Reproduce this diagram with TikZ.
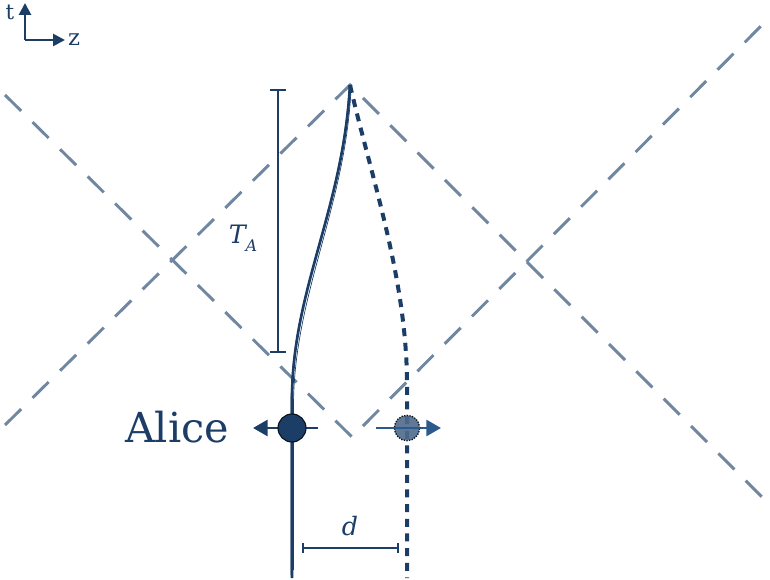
\documentclass[tikz,border=0pt]{standalone}
\usepackage{fontspec}
\setmainfont{DejaVu Serif}
\usetikzlibrary{arrows.meta}
\definecolor{navy}{HTML}{1B3D66}
\definecolor{cone}{HTML}{6F87A0}
\definecolor{ghost}{HTML}{4F6A8C}
\definecolor{arrowblue}{HTML}{2D5A8C}
\begin{document}
\begin{tikzpicture}[x=0.75pt,y=-0.75pt,
  conestyle/.style={cone,line width=2.2pt,dash pattern=on 17pt off 12pt},
  worldline/.style={navy,line width=2pt},
  ghostline/.style={navy,line width=3pt,dash pattern=on 6pt off 5pt},
  bracket/.style={navy,line width=1.4pt},
  axis/.style={navy,line width=2pt,-{Triangle[length=9pt,width=9pt]}},
  motion/.style={line width=2.2pt,-{Triangle[length=11pt,width=12pt]}}]
\useasboundingbox (0,0) rectangle (770,580);
% coordinates
\coordinate (apex) at (350,85);
\coordinate (vbot) at (352,437);
\coordinate (coneLL) at (5,425);
\coordinate (coneLR) at (765,500);
\coordinate (coneUL) at (5,95);
\coordinate (coneUR) at (765,22);
% light cones
\draw[conestyle] (coneLL) -- (apex) -- (coneLR);
\draw[conestyle] (coneUL) -- (vbot) -- (coneUR);
% axes
\coordinate (orig) at (25,40);
\coordinate (tEnd) at (25,3);
\coordinate (zEnd) at (65,40);
\draw[axis] (orig) -- (tEnd);
\draw[axis] (orig) -- (zEnd);
\node[navy,font=\fontsize{16}{17}\selectfont] (tlab) at (10,12) {t};
\node[navy,font=\fontsize{17}{18}\selectfont] (zlab) at (74,40) {z};
% worldlines
\coordinate (aBot) at (292,578);
\coordinate (aMid) at (292,400);
\draw[worldline] (aBot) -- (aMid) .. controls (292,290) and (343,210) .. (apex);
\draw[navy,line width=0.5pt] (291,575) -- (291,402) .. controls (291.5,292) and (342,210) .. (349,88);
\draw[navy,line width=0.5pt] (293.5,570) -- (293.5,405) .. controls (294,295) and (345,208) .. (351,90);
\coordinate (bBot) at (407,578);
\coordinate (bMid) at (407,385);
\draw[ghostline] (apex) .. controls (372,180) and (407,280) .. (bMid) -- (bBot);
% T_A bracket
\coordinate (tTop) at (278,90);
\coordinate (tBot) at (278,352);
\draw[bracket] (tTop) -- (tBot);
\draw[bracket] ([xshift=-6pt]tTop) -- ([xshift=6pt]tTop);
\draw[bracket] ([xshift=-6pt]tBot) -- ([xshift=6pt]tBot);
\node[navy,font=\fontsize{19}{22}\selectfont\itshape] (TA) at (243,238) {T\raisebox{-0.3em}{\fontsize{12}{13}\selectfont A}};
% d bracket
\coordinate (dL) at (303,548);
\coordinate (dR) at (398,548);
\draw[bracket] (dL) -- (dR);
\draw[bracket] ([yshift=-3.5pt]dL) -- ([yshift=3.5pt]dL);
\draw[bracket] ([yshift=-3.5pt]dR) -- ([yshift=3.5pt]dR);
\node[navy,font=\fontsize{19}{22}\selectfont\itshape] (dlab) at (350,526) {d};
% motion arrows
\coordinate (aRight) at (318,428);
\coordinate (aLeft) at (253,428);
\draw[motion,navy] (aRight) -- (aLeft);
\coordinate (bLeft) at (376,428);
\coordinate (bRight) at (441,428);
\draw[motion,arrowblue] (bLeft) -- (bRight);
% particles
\node[circle,fill=navy,draw=black!70!navy,line width=0.8pt,minimum size=21pt,inner sep=0pt] (alice) at (292,428) {};
\node[circle,fill=ghost,fill opacity=0.9,draw=black!70!navy,densely dotted,line width=1pt,minimum size=19pt,inner sep=0pt] (bob) at (407,428) {};
\draw[arrowblue,line width=2.2pt] (bLeft) -- (bob.east);
\node[navy,font=\fontsize{31}{34}\selectfont] (alicelab) at (177,427) {Alice};
\end{tikzpicture}
\end{document}
